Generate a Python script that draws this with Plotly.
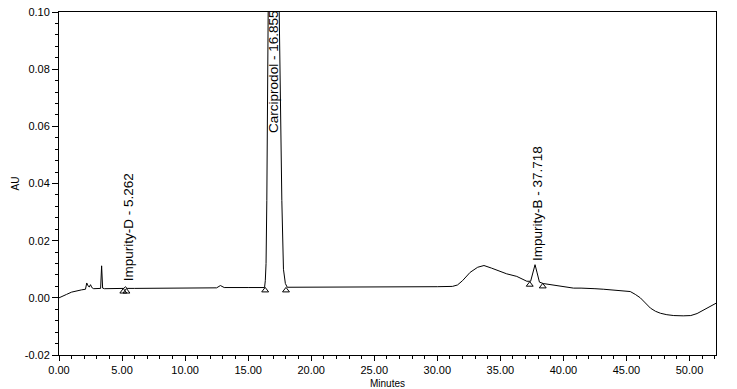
import plotly.graph_objects as go

# Chromatogram trace (minutes, AU)
time_min = [0.0, 0.3, 0.6, 1.0, 1.4, 1.8, 2.1, 2.2, 2.3, 2.4, 2.5, 2.6, 2.75, 3.0, 3.3, 3.38, 3.46,
            3.6, 4.5, 5.0, 5.15, 5.26, 5.4, 6.0, 8.0, 10.0, 12.5, 12.8, 13.1, 15.0, 16.2,
            16.3, 16.36, 16.42, 16.48, 16.56, 16.62, 16.85, 17.1, 17.4, 17.46, 17.54, 17.67, 17.8, 17.95,
            18.1, 20.0, 25.0, 30.0, 31.2, 31.6, 32.0, 32.6, 33.2, 33.7, 34.3, 34.9, 35.5, 36.3, 36.8,
            37.1, 37.4, 37.6, 37.75, 37.9, 38.1, 38.4, 39.0, 39.5, 40.2, 40.8, 41.4, 41.9, 42.5, 43.2,
            44.0, 44.8, 45.3, 45.7, 46.1, 46.5, 46.9, 47.3, 47.7, 48.2, 48.75, 49.5, 50.1, 50.6, 51.0,
            51.4, 51.8, 52.1]
absorbance = [0.0, 0.0005, 0.0012, 0.0020, 0.0025, 0.0028, 0.0030, 0.0052, 0.0042, 0.0038, 0.0046, 0.0036, 0.0032, 0.0033, 0.0033, 0.0112, 0.0034,
              0.0032, 0.0032, 0.0032, 0.0033, 0.0039, 0.0033, 0.0033, 0.0034, 0.0034, 0.0035, 0.0043, 0.0036, 0.0036, 0.0036,
              0.0036, 0.006, 0.012, 0.034, 0.069, 0.12, 0.40, 0.35, 0.12, 0.10, 0.069, 0.034, 0.010, 0.005,
              0.0037, 0.0037, 0.0038, 0.0039, 0.0040, 0.0045, 0.0060, 0.0089, 0.0107, 0.0113, 0.0104, 0.0093, 0.0084, 0.0075, 0.0066,
              0.0058, 0.0058, 0.0090, 0.0116, 0.0090, 0.0055, 0.0050, 0.0046, 0.0043, 0.0039, 0.0034, 0.0034, 0.0032, 0.0032, 0.0030,
              0.0026, 0.0023, 0.0022, 0.0012, 0.0, -0.0018, -0.0036, -0.0047, -0.0054, -0.0059, -0.0062, -0.0063, -0.0062, -0.0055, -0.0046,
              -0.0036, -0.0026, -0.0019]

# Peak start/end markers
marker_t = [5.1, 5.35, 16.35, 18.0, 37.33, 38.36]
marker_au = [0.0022, 0.0022, 0.0026, 0.0026, 0.0046, 0.0040]

# Peak labels
peak_names = ["Impurity-D - 5.262", "Carciprodol - 16.855", "Impurity-B - 37.718"]
peak_t = [5.262, 16.855, 37.718]
label_au = [0.0056, 0.0572, 0.0126]
label_shift = [3, 2, 3]

x_ticks = [0, 5, 10, 15, 20, 25, 30, 35, 40, 45, 50]
y_ticks = [-0.02, 0.0, 0.02, 0.04, 0.06, 0.08, 0.10]

fig = go.Figure()
fig.add_trace(go.Scatter(x=time_min, y=absorbance, mode="lines",
                         line=dict(color="black", width=1), showlegend=False, hoverinfo="skip"))
fig.add_trace(go.Scatter(x=marker_t, y=marker_au, mode="markers",
                         marker=dict(symbol="triangle-up-open", size=6, color="black",
                                     line=dict(width=1)), showlegend=False, hoverinfo="skip"))

for name, t, yv, sh in zip(peak_names, peak_t, label_au, label_shift):
    fig.add_annotation(x=t, y=yv, xref="x", yref="y", text=name, showarrow=False,
                       textangle=-90, xanchor="center", yanchor="bottom", xshift=sh, borderpad=0,
                       font=dict(family="Liberation Sans, Arial", size=13.5, color="black"))

title_font = dict(family="Liberation Sans, Arial", size=10, color="black")
fig.add_annotation(x=0.5, y=-0.0845, xref="paper", yref="paper", text="Minutes", showarrow=False,
                   xanchor="center", yanchor="middle", borderpad=0, font=title_font)
fig.add_annotation(x=-0.0655, y=0.5, xref="paper", yref="paper", text="AU", showarrow=False,
                   textangle=-90, xanchor="center", yanchor="middle", font=title_font)

axis_font = dict(family="Liberation Sans, Arial", size=11, color="black")
fig.update_xaxes(range=[0, 52.1], tickvals=x_ticks, ticktext=[f"{v:.2f}" for v in x_ticks],
                 ticks="outside", ticklen=5, tickcolor="black", tickwidth=1,
                 minor=dict(dtick=1, ticks="outside", ticklen=3, tickcolor="black", showgrid=False),
                 showline=True, linecolor="black", linewidth=1, mirror=True,
                 showgrid=False, zeroline=False, tickfont=axis_font, automargin=False)
fig.update_yaxes(range=[-0.02, 0.10], tickvals=y_ticks, ticktext=[f"{v:.2f}" for v in y_ticks],
                 ticks="outside", ticklen=6, tickcolor="black", tickwidth=1,
                 minor=dict(dtick=0.004, tick0=0, ticks="outside", ticklen=3, tickcolor="black", showgrid=False),
                 showline=True, linecolor="black", linewidth=1, mirror=True,
                 showgrid=False, zeroline=False, tickfont=axis_font, automargin=False,
                 ticklabeloverflow="allow")

fig.update_layout(width=737, height=389, margin=dict(l=59, r=21, t=12, b=34),
                  plot_bgcolor="white", paper_bgcolor="white", hovermode=False)
# remove the page's default 8px body margin so the figure fills the window exactly
fig.write_html("out.html", config={"displayModeBar": False},
               post_script="document.body.style.margin='0';")
